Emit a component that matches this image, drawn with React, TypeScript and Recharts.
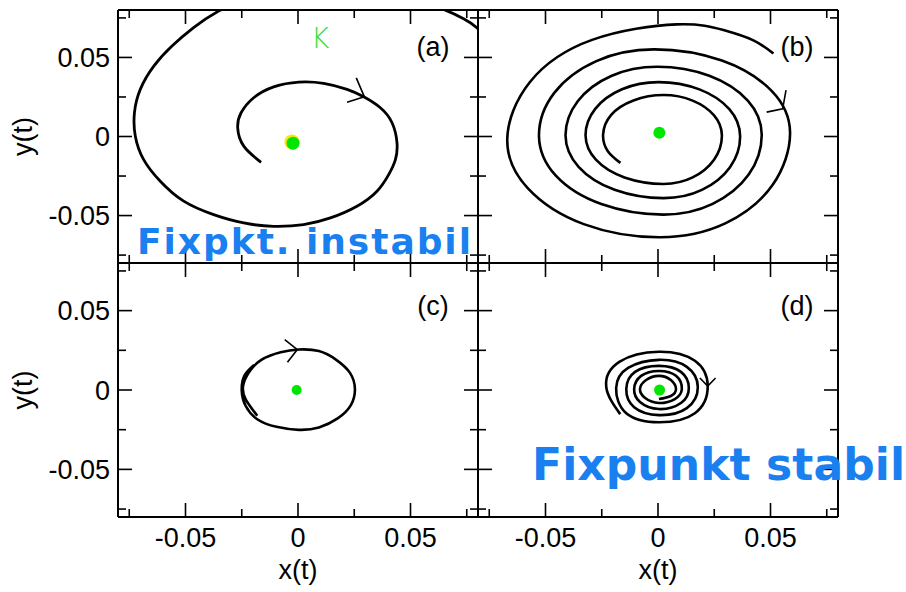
import React from 'react';
import { ComposedChart, Line, XAxis, YAxis, ReferenceDot } from 'recharts';

type P = { x: number; y: number };
const pts = (a: number[][]): P[] => a.map(([x, y]) => ({ x, y }));

// ---- axis / ticks ----
const axisDomain: [number, number] = [-0.08, 0.08];
const tickValues = [-0.075, -0.05, -0.025, 0, 0.025, 0.05, 0.075];
const majorTickLabels: Record<string, string> = { '-0.05': '-0.05', '0': '0', '0.05': '0.05' };
const panelLabels = ['(a)', '(b)', '(c)', '(d)'];
const xTitle = 'x(t)';
const yTitle = 'y(t)';
const noteUnstable = 'Fixpkt. instabil';
const noteStable = 'Fixpunkt stabil';
const noteMark = 'K';

// ---- (a) unstable spiral, growing outwards ----
const spiralA = pts([
  [-0.0164, -0.0163], [-0.0241, -0.0061], [-0.0268, 0.0055], [-0.0253, 0.015], [-0.0197, 0.0245],
  [-0.0108, 0.0314], [0.0003, 0.0344], [0.0114, 0.0336], [0.0218, 0.0298], [0.0292, 0.0251],
  [0.0366, 0.0182], [0.0418, 0.0087], [0.044, -0.004], [0.0433, -0.0146], [0.0403, -0.0241],
  [0.0351, -0.0346], [0.0262, -0.0441], [0.0144, -0.0515], [0.0025, -0.0557], [-0.0108, -0.0568],
  [-0.0241, -0.0547], [-0.0375, -0.0494], [-0.0508, -0.0409], [-0.0612, -0.0283], [-0.0686, -0.0146],
  [-0.0723, 0.0002], [-0.0727, 0.015], [-0.0701, 0.0298], [-0.0641, 0.0445], [-0.056, 0.0572],
  [-0.0464, 0.0688], [-0.0353, 0.0793], [-0.0182, 0.0899], [0.0025, 0.0952], [0.0262, 0.0941],
  [0.0484, 0.0878], [0.0647, 0.0804], [0.0736, 0.0745], [0.0795, 0.0688], [0.0869, 0.0572],
]);
const arrowA = pts([[0.0259, 0.0371], [0.0295, 0.0251], [0.0218, 0.0217]]);

// ---- (b) slowly growing spiral ----
const spiralB = pts([
  [-0.0167, -0.0167], [-0.0223, -0.0093], [-0.0244, 0.0013], [-0.0208, 0.0137], [-0.0109, 0.0228],
  [0.0025, 0.0262], [0.0154, 0.0227], [0.0249, 0.0134], [0.0284, 0.0006], [0.0249, -0.0147],
  [0.0154, -0.0259], [0.0025, -0.03], [-0.0149, -0.0259], [-0.0276, -0.0147], [-0.0322, 0.0006],
  [-0.0279, 0.0175], [-0.016, 0.0299], [0.0003, 0.0344], [0.0184, 0.0298], [0.0317, 0.0173],
  [0.0365, 0.0002], [0.032, -0.0194], [0.0195, -0.0338], [0.0025, -0.039], [-0.0193, -0.0337],
  [-0.0353, -0.0192], [-0.0411, 0.0006], [-0.0356, 0.0224], [-0.0208, 0.0383], [-0.0004, 0.0441],
  [0.0228, 0.0384], [0.0399, 0.0227], [0.0461, 0.0013], [0.0403, -0.0241], [0.0243, -0.0426],
  [0.0025, -0.0494], [-0.0252, -0.0427], [-0.0455, -0.0246], [-0.0529, 0.0002], [-0.0461, 0.0276],
  [-0.0274, 0.0477], [-0.0019, 0.0551], [0.0284, 0.048], [0.0506, 0.0287], [0.0587, 0.0023],
  [0.0509, -0.0307], [0.0299, -0.0549], [0.001, -0.0637], [-0.033, -0.0554], [-0.0578, -0.0328],
  [-0.067, -0.0019], [-0.0569, 0.0345], [-0.0293, 0.0611], [0.0084, 0.0709], [0.0291, 0.0673],
  [0.0424, 0.0608], [0.0513, 0.0525],
]);
const arrowB = pts([[0.0569, 0.0293], [0.0554, 0.0175], [0.0483, 0.0154]]);

// ---- (c) limit cycle ----
const cycleC = pts([
  [-0.0181, -0.0162], [-0.0233, -0.0057], [-0.0244, 0.0027], [-0.0218, 0.0112], [-0.0163, 0.019],
  [-0.0077, 0.0238], [0.0004, 0.0255], [0.0093, 0.0245], [0.017, 0.019], [0.0231, 0.0108],
  [0.0253, 0.0006], [0.0235, -0.0095], [0.0178, -0.0177], [0.0093, -0.0236], [0.0004, -0.0251],
  [-0.0096, -0.0232], [-0.0181, -0.0184], [-0.0233, -0.0099], [-0.025, -0.0004], [-0.0238, 0.0091],
  [-0.0195, 0.0158],
]);
const arrowC = pts([[-0.0059, 0.0317], [-0.0003, 0.0255], [-0.0047, 0.0175]]);

// ---- (d) stable spiral, shrinking inwards ----
const spiralD = pts([
  [-0.0168, -0.0152], [-0.023, 0.0019], [-0.0172, 0.0177], [0.0004, 0.0241], [0.0164, 0.0184],
  [0.0221, 0.0025], [0.0164, -0.0146], [0.0004, -0.0203], [-0.0141, -0.0146], [-0.0186, 0.0013],
  [-0.0133, 0.0139], [0.0004, 0.019], [0.0128, 0.0146], [0.0177, 0.0019], [0.0128, -0.0114],
  [0.0004, -0.0158], [-0.0106, -0.0108], [-0.0141, 0.0006], [-0.0102, 0.0114], [0.0004, 0.0152],
  [0.0102, 0.0114], [0.0137, 0.0013], [0.0102, -0.0082], [0.0004, -0.012], [-0.008, -0.0076],
  [-0.0106, 0.0006], [-0.0075, 0.0089], [0.0004, 0.012], [0.008, 0.0089], [0.0106, 0.0006],
  [0.0075, -0.0057], [0.0004, -0.0082], [-0.0057, -0.0051], [-0.008, 0.0006], [-0.0053, 0.0063],
  [0.0004, 0.0089], [0.0057, 0.0063], [0.008, 0.0006], [0.0057, -0.0038], [0.0004, -0.0057],
]);
const arrowD = pts([[0.0186, 0.0076], [0.0221, 0.0025], [0.0256, 0.0076]]);

// fixed points (green marks), yellow underlay in (a)
const fixedA = { x: -0.0022, y: -0.0042 };
const fixedAUnder = { x: -0.0027, y: -0.0034 };
const fixedB = { x: 0.0006, y: 0.0023 };
const fixedC = { x: -0.0006, y: 0.0 };
const fixedD = { x: 0.0007, y: 0.0 };

const FONT = '"Liberation Sans", Arial, Helvetica, sans-serif';
const BLACK = '#000';
const GREEN = '#00e600';
const BLUE = '#1a80f0';

const isMajor = (v: number) => Math.abs(v * 20 - Math.round(v * 20)) < 1e-6;
const labelFor = (v: number) => majorTickLabels[Math.abs(v) < 1e-9 ? '0' : v.toFixed(2)];

type Side = 'bottom' | 'top' | 'left' | 'right';
const makeTick = (side: Side, showLabel: boolean) => (props: any) => {
  const { x, y, payload } = props;
  const v = payload.value as number;
  const major = isMajor(v);
  const len = major ? 14 : 8;
  let x2 = x;
  let y2 = y;
  if (side === 'bottom') y2 = y - len;
  if (side === 'top') y2 = y + len;
  if (side === 'left') x2 = x + len;
  if (side === 'right') x2 = x - len;
  const lbl = showLabel && major ? labelFor(v) : null;
  return (
    <g>
      <line x1={x} y1={y} x2={x2} y2={y2} stroke={BLACK} strokeWidth={1.6} />
      {lbl && side === 'bottom' && (
        <text x={x} y={y + 30} textAnchor="middle" fontSize={27} fontFamily={FONT} fill={BLACK}>
          {lbl}
        </text>
      )}
      {lbl && side === 'left' && (
        <text x={x - 8} y={y} dy="0.36em" textAnchor="end" fontSize={27} fontFamily={FONT} fill={BLACK}>
          {lbl}
        </text>
      )}
    </g>
  );
};

const xTitleLabel = (p: any) => {
  const vb = p.viewBox;
  return (
    <text x={vb.x + vb.width / 2} y={vb.y + 62} textAnchor="middle" fontSize={27} fontFamily={FONT} fill={BLACK}>
      {xTitle}
    </text>
  );
};
const yTitleLabel = (p: any) => {
  const vb = p.viewBox;
  const cx = vb.x - 82;
  const cy = vb.y + vb.height / 2;
  return (
    <text x={cx} y={cy} transform={`rotate(-90, ${cx}, ${cy})`} textAnchor="middle" fontSize={27} fontFamily={FONT} fill={BLACK}>
      {yTitle}
    </text>
  );
};

type Rect = { x0: number; x1: number; y0: number; y1: number };
const AX = 4;
const axisLine = { stroke: BLACK, strokeWidth: 2 };

function Panel(props: {
  rect: Rect;
  curve: P[];
  arrow: P[];
  fixed: P[];
  fixedColors: string[];
  fixedR: number[];
  showX: boolean;
  showY: boolean;
  width: number;
}) {
  const { rect, curve, arrow, fixed, fixedColors, fixedR, showX, showY, width } = props;
  const margin = { top: rect.y0 - AX, bottom: 592 - rect.y1 - AX, left: rect.x0 - AX, right: 906 - rect.x1 - AX };
  const common = {
    type: 'number' as const,
    domain: axisDomain,
    allowDataOverflow: true,
    ticks: tickValues,
    interval: 0 as const,
    tickSize: 0,
    tickMargin: 0,
    tickLine: false,
    axisLine,
  };
  return (
    <div style={{ position: 'absolute', left: 0, top: 0 }}>
      <ComposedChart width={906} height={592} margin={margin}>
        <XAxis xAxisId="b" orientation="bottom" dataKey="x" height={AX} {...common} tick={makeTick('bottom', showX)} label={showX ? xTitleLabel : undefined} />
        <XAxis xAxisId="t" orientation="top" dataKey="x" height={AX} {...common} tick={makeTick('top', false)} />
        <YAxis yAxisId="l" orientation="left" width={AX} {...common} tick={makeTick('left', showY)} label={showY ? yTitleLabel : undefined} />
        <YAxis yAxisId="r" orientation="right" width={AX} {...common} tick={makeTick('right', false)} />
        <Line xAxisId="b" yAxisId="l" data={curve} dataKey="y" type="natural" stroke={BLACK} strokeWidth={width} dot={false} activeDot={false} isAnimationActive={false} />
        <Line xAxisId="b" yAxisId="l" data={arrow} dataKey="y" type="linear" stroke={BLACK} strokeWidth={1.6} dot={false} activeDot={false} isAnimationActive={false} />
        {fixed.map((f, i) => (
          <ReferenceDot key={i} xAxisId="b" yAxisId="l" x={f.x} y={f.y} r={fixedR[i]} fill={fixedColors[i]} stroke="none" />
        ))}
      </ComposedChart>
    </div>
  );
}

const rects: Rect[] = [
  { x0: 118, x1: 478, y0: 10, y1: 263 },
  { x0: 478, x1: 838, y0: 10, y1: 263 },
  { x0: 118, x1: 478, y0: 263, y1: 517 },
  { x0: 478, x1: 838, y0: 263, y1: 517 },
];

export default function App() {
  return (
    <div style={{ position: 'absolute', left: 0, top: 0, width: 906, height: 592, background: '#fff', overflow: 'hidden' }}>
      <Panel rect={rects[0]} curve={spiralA} arrow={arrowA} fixed={[fixedAUnder, fixedA]} fixedColors={['#ffe600', GREEN]} fixedR={[7.5, 6.5]} showX={false} showY={true} width={2.8} />
      <Panel rect={rects[1]} curve={spiralB} arrow={arrowB} fixed={[fixedB]} fixedColors={[GREEN]} fixedR={[6]} showX={false} showY={false} width={2.6} />
      <Panel rect={rects[2]} curve={cycleC} arrow={arrowC} fixed={[fixedC]} fixedColors={[GREEN]} fixedR={[5]} showX={true} showY={true} width={2.6} />
      <Panel rect={rects[3]} curve={spiralD} arrow={arrowD} fixed={[fixedD]} fixedColors={[GREEN]} fixedR={[5.5]} showX={true} showY={false} width={2.6} />
      <svg width={906} height={592} style={{ position: 'absolute', left: 0, top: 0, pointerEvents: 'none' }}>
        <text x={433} y={56} textAnchor="middle" fontSize={27} fontFamily={FONT} fill={BLACK}>{panelLabels[0]}</text>
        <text x={797} y={56} textAnchor="middle" fontSize={27} fontFamily={FONT} fill={BLACK}>{panelLabels[1]}</text>
        <text x={433} y={315} textAnchor="middle" fontSize={27} fontFamily={FONT} fill={BLACK}>{panelLabels[2]}</text>
        <text x={797} y={315} textAnchor="middle" fontSize={27} fontFamily={FONT} fill={BLACK}>{panelLabels[3]}</text>
        <text x={311} y={48} fontSize={28} fontFamily='"DejaVu Sans", sans-serif' fontWeight={200} fill="#33dd33">{noteMark}</text>
        <text x={137} y={254} fontSize={36} fontFamily='"DejaVu Sans", sans-serif' fontWeight="bold" fill={BLUE} textLength={334} lengthAdjust="spacing">{noteUnstable}</text>
        <text x={532} y={480} fontSize={44} fontFamily='"DejaVu Sans", sans-serif' fontWeight="bold" fill={BLUE} textLength={373} lengthAdjust="spacing">{noteStable}</text>
      </svg>
    </div>
  );
}
